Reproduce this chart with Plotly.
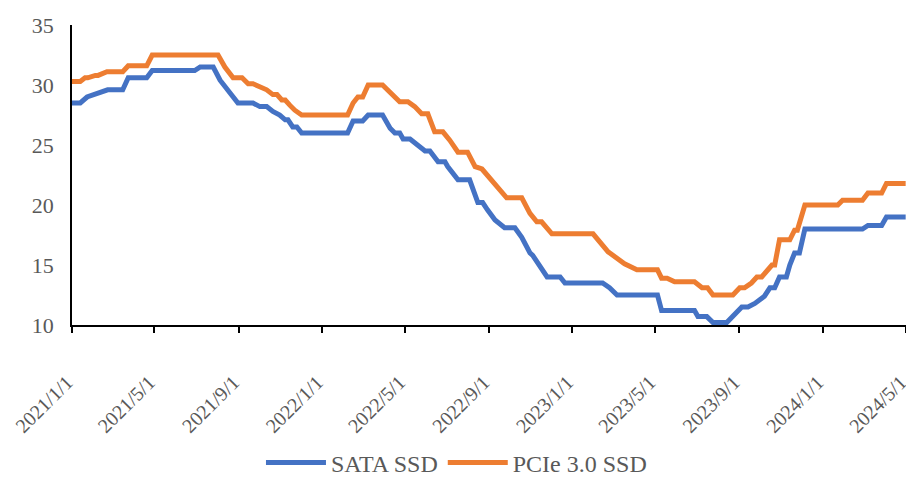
"""SATA vs PCIe 3.0 SSD price lines."""

import plotly.graph_objects as go

# SATA SSD price (vertices of the stepped line)
sata_dates = [
    "2021-01-01", "2021-01-13", "2021-01-23", "2021-02-04", "2021-02-08", "2021-02-22",
    "2021-03-16", "2021-03-24", "2021-04-20", "2021-04-28", "2021-06-29", "2021-07-07",
    "2021-07-26", "2021-08-05", "2021-08-31", "2021-09-22", "2021-10-02", "2021-10-12",
    "2021-10-21", "2021-10-31", "2021-11-08", "2021-11-12", "2021-11-19", "2021-11-25",
    "2021-12-02", "2022-02-07", "2022-02-15", "2022-03-01", "2022-03-09", "2022-03-30",
    "2022-04-10", "2022-04-17", "2022-04-24", "2022-04-29", "2022-05-09", "2022-05-20",
    "2022-05-31", "2022-06-07", "2022-06-19", "2022-06-29", "2022-07-03", "2022-07-18",
    "2022-08-04", "2022-08-16", "2022-08-23", "2022-08-30", "2022-09-10", "2022-09-24",
    "2022-10-09", "2022-10-19", "2022-10-31", "2022-11-04", "2022-11-25", "2022-12-14",
    "2022-12-21", "2023-02-14", "2023-02-24", "2023-03-07", "2023-05-05", "2023-05-11",
    "2023-06-28", "2023-07-03", "2023-07-16", "2023-07-25", "2023-08-14", "2023-09-05",
    "2023-09-14", "2023-09-24", "2023-10-01", "2023-10-08", "2023-10-16", "2023-10-23",
    "2023-10-30", "2023-11-09", "2023-11-14", "2023-11-21", "2023-11-28", "2023-12-06",
    "2024-02-28", "2024-03-07", "2024-03-27", "2024-04-03", "2024-05-01",
]
sata_values = [
    28.5, 28.5, 29.0, 29.2, 29.3, 29.6,
    29.6, 30.6, 30.6, 31.2, 31.2, 31.5,
    31.5, 30.4, 28.5, 28.5, 28.2, 28.2,
    27.8, 27.5, 27.1, 27.1, 26.5, 26.5,
    26.0, 26.0, 27.0, 27.0, 27.5, 27.5,
    26.4, 26.0, 26.0, 25.5, 25.5, 25.0,
    24.5, 24.5, 23.6, 23.6, 23.2, 22.1,
    22.1, 20.2, 20.2, 19.6, 18.75, 18.1,
    18.1, 17.3, 16.0, 15.8, 14.0, 14.0,
    13.5, 13.5, 13.1, 12.5, 12.5, 11.2,
    11.2, 10.7, 10.7, 10.2, 10.2, 11.5,
    11.5, 11.8, 12.1, 12.4, 13.1, 13.1,
    14.0, 14.0, 15.0, 16.0, 16.0, 18.0,
    18.0, 18.3, 18.3, 19.0, 19.0,
]

# PCIe 3.0 SSD price
pcie_dates = [
    "2021-01-01", "2021-01-13", "2021-01-20", "2021-01-24", "2021-02-04", "2021-02-08",
    "2021-02-21", "2021-03-16", "2021-03-24", "2021-04-20", "2021-04-28", "2021-08-02",
    "2021-08-12", "2021-08-24", "2021-09-06", "2021-09-15", "2021-09-22", "2021-10-02",
    "2021-10-12", "2021-10-21", "2021-10-27", "2021-11-03", "2021-11-08", "2021-11-15",
    "2021-11-22", "2021-12-02", "2022-02-07", "2022-02-15", "2022-02-22", "2022-03-01",
    "2022-03-09", "2022-03-30", "2022-04-13", "2022-04-17", "2022-04-24", "2022-05-06",
    "2022-05-16", "2022-05-26", "2022-06-04", "2022-06-14", "2022-06-26", "2022-07-06",
    "2022-07-18", "2022-08-01", "2022-08-12", "2022-08-22", "2022-08-30", "2022-09-13",
    "2022-09-27", "2022-10-19", "2022-10-31", "2022-11-10", "2022-11-17", "2022-12-02",
    "2023-01-31", "2023-02-22", "2023-03-04", "2023-03-18", "2023-04-05", "2023-05-05",
    "2023-05-11", "2023-05-19", "2023-05-30", "2023-06-28", "2023-07-09", "2023-07-17",
    "2023-07-25", "2023-08-23", "2023-09-02", "2023-09-09", "2023-09-19", "2023-09-27",
    "2023-10-04", "2023-10-11", "2023-10-19", "2023-10-23", "2023-10-30", "2023-11-14",
    "2023-11-21", "2023-11-25", "2023-12-06", "2024-01-23", "2024-01-30", "2024-02-28",
    "2024-03-07", "2024-03-27", "2024-04-03", "2024-05-01",
]
pcie_values = [
    30.3, 30.3, 30.6, 30.6, 30.8, 30.8,
    31.1, 31.1, 31.6, 31.6, 32.5, 32.5,
    31.5, 30.6, 30.6, 30.1, 30.1, 29.9,
    29.6, 29.2, 29.2, 28.75, 28.75, 28.3,
    27.9, 27.5, 27.5, 28.5, 29.0, 29.0,
    30.0, 30.0, 29.2, 29.0, 28.6, 28.6,
    28.2, 27.6, 27.6, 26.1, 26.1, 25.4,
    24.4, 24.4, 23.2, 23.0, 22.5, 21.5,
    20.6, 20.6, 19.3, 18.6, 18.6, 17.6,
    17.6, 16.1, 15.7, 15.1, 14.6, 14.6,
    13.9, 13.9, 13.6, 13.6, 13.1, 13.1,
    12.5, 12.5, 13.1, 13.1, 13.5, 14.0,
    14.0, 14.4, 15.0, 15.0, 17.1, 17.1,
    17.9, 17.9, 20.0, 20.0, 20.4, 20.4,
    21.0, 21.0, 21.8, 21.8,
]

tick_dates = [
    "2021-01-01", "2021-05-01", "2021-09-01", "2022-01-01", "2022-05-01", "2022-09-01",
    "2023-01-01", "2023-05-01", "2023-09-01", "2024-01-01", "2024-05-01",
]
tick_labels = [
    "2021/1/1", "2021/5/1", "2021/9/1", "2022/1/1", "2022/5/1", "2022/9/1",
    "2023/1/1", "2023/5/1", "2023/9/1", "2024/1/1", "2024/5/1",
]

FONT = "Liberation Serif, Times New Roman, serif"
TEXT_GREY = "#595959"

fig = go.Figure()
fig.add_trace(
    go.Scatter(
        x=sata_dates,
        y=sata_values,
        mode="lines",
        name="SATA SSD",
        line=dict(color="#4472C4", width=5),
    )
)
fig.add_trace(
    go.Scatter(
        x=pcie_dates,
        y=pcie_values,
        mode="lines",
        name="PCIe 3.0 SSD",
        line=dict(color="#ED7D31", width=5),
    )
)

# the page body keeps its 8px margin, so the figure is sized/offset for it
fig.update_layout(
    width=906,
    height=469,
    margin=dict(l=64, r=8, t=17, b=152, autoexpand=False),
    plot_bgcolor="#FFFFFF",
    paper_bgcolor="#FFFFFF",
    font=dict(family=FONT, color=TEXT_GREY, size=20),
    showlegend=True,
    legend=dict(
        orientation="h",
        xref="container",
        yref="paper",
        x=0.495,
        xanchor="center",
        y=-0.46,
        yanchor="middle",
        font=dict(family=FONT, size=24, color=TEXT_GREY),
        itemwidth=60,
        tracegroupgap=0,
    ),
    xaxis=dict(
        type="date",
        range=["2021-01-01", "2024-05-01 12:00"],
        tickvals=tick_dates,
        ticktext=tick_labels,
        tickangle=-45,
        ticks="outside",
        ticklen=6,
        tickwidth=1.5,
        tickcolor="#000000",
        showline=True,
        linecolor="#000000",
        linewidth=1.5,
        showgrid=False,
        zeroline=False,
        automargin=False,
        ticklabelstandoff=30,
        ticklabelshift=-5,
        ticklabeloverflow="allow",
        tickfont=dict(size=20),
    ),
    yaxis=dict(
        range=[10, 35],
        tickvals=[10, 15, 20, 25, 30, 35],
        showline=True,
        linecolor="#000000",
        linewidth=1.5,
        showgrid=False,
        zeroline=False,
        automargin=False,
        ticks="",
        ticklabelstandoff=12,
        tickfont=dict(size=22),
    ),
)

fig.write_html("out.html")
